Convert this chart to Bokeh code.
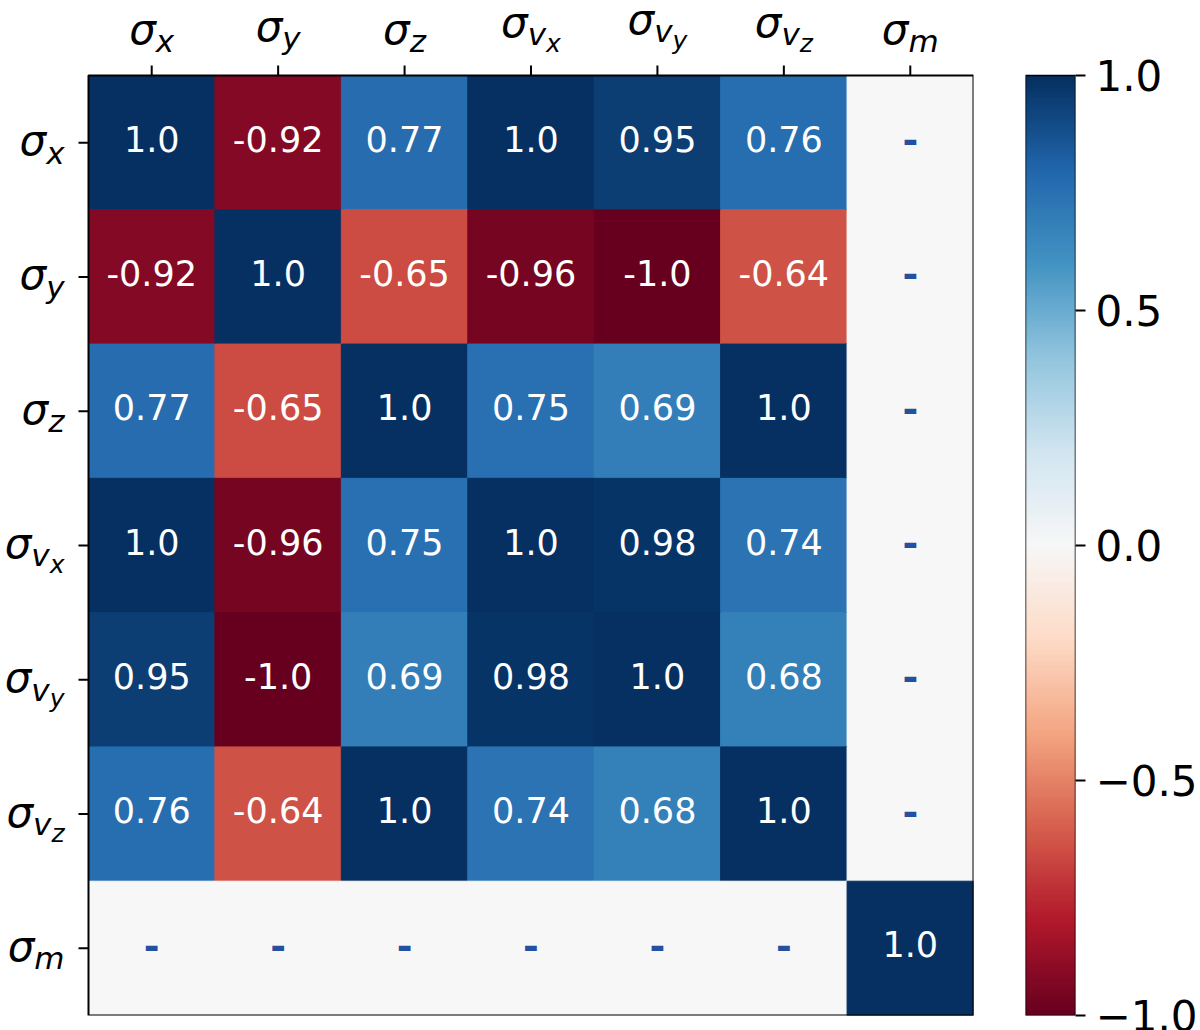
import numpy as np
from bokeh.plotting import figure
from bokeh.models import Range1d, FixedTicker, LinearColorMapper, ColumnDataSource
from bokeh.transform import transform
from bokeh.layouts import row
from bokeh.embed import file_html
from bokeh.resources import INLINE
from bokeh.core.properties import value

# ---------------- data ----------------
label_parts = [
    ["σ", "x"],
    ["σ", "y"],
    ["σ", "z"],
    ["σ", "v", "x"],
    ["σ", "v", "y"],
    ["σ", "v", "z"],
    ["σ", "m"],
]
nan = float("nan")
row_sx = [1.0, -0.92, 0.77, 1.0, 0.95, 0.76, nan]
row_sy = [-0.92, 1.0, -0.65, -0.96, -1.0, -0.64, nan]
row_sz = [0.77, -0.65, 1.0, 0.75, 0.69, 1.0, nan]
row_svx = [1.0, -0.96, 0.75, 1.0, 0.98, 0.74, nan]
row_svy = [0.95, -1.0, 0.69, 0.98, 1.0, 0.68, nan]
row_svz = [0.76, -0.64, 1.0, 0.74, 0.68, 1.0, nan]
row_sm = [nan, nan, nan, nan, nan, nan, 1.0]
corr = [row_sx, row_sy, row_sz, row_svx, row_svy, row_svz, row_sm]

cbar_ticks = [-1.0, -0.5, 0.0, 0.5, 1.0]
cbar_tick_labels = ["\u22121.0", "\u22120.5", "0.0", "0.5", "1.0"]

# RdBu anchor colours (low -> high)
rdbu_anchors = ["#67001f", "#b2182b", "#d6604d", "#f4a582", "#fddbc7", "#f7f7f7",
                "#d1e5f0", "#92c5de", "#4393c3", "#2166ac", "#053061"]


def build_palette(anchors, n=256):
    rgb = np.array([[int(a[i:i + 2], 16) for i in (1, 3, 5)] for a in anchors], float)
    pos = np.linspace(0, 1, len(anchors))
    t = np.linspace(0, 1, n)
    out = []
    for ti in t:
        c = [np.interp(ti, pos, rgb[:, k]) for k in range(3)]
        out.append("#%02x%02x%02x" % tuple(int(round(v)) for v in c))
    return out


palette = build_palette(rdbu_anchors)
mapper = LinearColorMapper(palette=palette, low=-1, high=1, nan_color="#f7f7f7")

n = len(label_parts)

# ---------------- layout (pixels) ----------------
FONT = "DejaVu Sans"
FL, FT, FB = 88, 75, 15        # space left / above / below heatmap
HW, HH = 885, 940              # heatmap size in px
PPX = HW / n                   # px per data unit (x)
PPY = HH / n                   # px per data unit (y)
MID = 0.357                    # baseline -> middle offset (fraction of font size)


def dx(px):
    return px / PPX


def dy(px):
    return px / PPY   # y range is inverted: + goes down


x0 = -0.5 - dx(FL)
y_top = -0.5 - dy(FT)

p = figure(frame_width=FL + HW, frame_height=FT + HH,
           min_border_left=0, min_border_right=27, min_border_top=0, min_border_bottom=FB,
           x_range=Range1d(x0, n - 0.5), y_range=Range1d(n - 0.5, y_top),
           x_axis_location=None, y_axis_location=None,
           toolbar_location=None, output_backend="svg",
           background_fill_color="white", border_fill_color="white")
p.grid.visible = False
p.outline_line_color = None

xs, ys, vs = [], [], []
for i in range(n):
    for j in range(n):
        xs.append(j)
        ys.append(i)
        vs.append(corr[i][j])
vs_arr = np.array(vs, dtype=float)
is_nan = np.isnan(vs_arr)

cells = ColumnDataSource(dict(x=xs, y=ys, v=vs_arr))
num_src = ColumnDataSource(dict(
    x=[x for x, m in zip(xs, is_nan) if not m],
    y=[y - dy(4) for y, m in zip(ys, is_nan) if not m],
    t=[str(v) for v, m in zip(vs, is_nan) if not m],
))
dash_src = ColumnDataSource(dict(
    x=[x for x, m in zip(xs, is_nan) if m],
    y=[y - dy(3) for y, m in zip(ys, is_nan) if m],
    t=["-" for m in is_nan if m],
))

p.rect(x="x", y="y", width=1, height=1, source=cells,
       fill_color=transform("v", mapper), line_color=transform("v", mapper), line_width=1)
p.text(x="x", y="y", text="t", source=num_src, text_color="white",
       text_align="center", text_baseline="middle",
       text_font=value(FONT), text_font_size="35px")
p.text(x="x", y="y", text="t", source=dash_src, text_color="#23509f",
       text_align="center", text_baseline="middle", text_font_style="bold",
       text_font=value(FONT), text_font_size="38px")

# frame border around the matrix
p.rect(x=[(n - 1) / 2], y=[(n - 1) / 2], width=n, height=n,
       fill_color=None, line_color="black", line_width=2)

# ticks (top and left)
idx = list(range(n))
TICK = 10
p.segment(x0=idx, x1=idx, y0=[-0.5] * n, y1=[-0.5 - dy(TICK)] * n,
          line_color="black", line_width=2)
p.segment(x0=[-0.5] * n, x1=[-0.5 - dx(TICK)] * n, y0=idx, y1=idx,
          line_color="black", line_width=2)

# math-style tick labels built from pieces (σ, subscript, sub-subscript)
adv = {"σ": 0.634, "x": 0.592, "y": 0.592, "z": 0.525, "v": 0.592, "m": 0.974}
sizes = [42, 31, 25]
shift = [0, 8, 15]
desc = {"y"}

lab = {"x": [], "y": [], "t": [], "s": []}
for k, parts in enumerate(label_parts):
    widths = [adv[ch] * sizes[lev] for lev, ch in enumerate(parts)]
    W = sum(widths)
    cum = np.concatenate([[0.0], np.cumsum(widths)[:-1]])
    base_gap = 31 + 7 * (len(parts) - 2) + (3 if parts[-1] in desc else 0)
    for lev, ch in enumerate(parts):
        mid = MID * sizes[lev]
        # top label (centred on the column)
        lab["x"].append(k + dx(-W / 2 + cum[lev]))
        lab["y"].append(-0.5 - dy(base_gap - shift[lev] + mid))
        lab["t"].append(ch)
        lab["s"].append("%dpx" % sizes[lev])
        # left label (right-aligned before the tick)
        lab["x"].append(-0.5 + dx(-24 - W + cum[lev]))
        lab["y"].append(k + dy(13 + shift[lev] - mid))
        lab["t"].append(ch)
        lab["s"].append("%dpx" % sizes[lev])

p.text(x="x", y="y", text="t", source=ColumnDataSource(lab), text_font_size="s",
       text_font=value(FONT), text_font_style="italic", text_color="black",
       text_align="left", text_baseline="middle")

# ---------------- colour bar ----------------
cb_top = 1 + 2 * FT / HH
p2 = figure(frame_width=50, frame_height=FT + HH,
            min_border_left=25, min_border_right=125, min_border_top=0, min_border_bottom=FB,
            x_range=Range1d(0, 1), y_range=Range1d(-1, cb_top),
            x_axis_location=None, y_axis_location="right",
            toolbar_location=None, output_backend="svg",
            background_fill_color="white", border_fill_color="white")
grad = np.linspace(-1, 1, 256).reshape(256, 1)
p2.image(image=[grad], x=0, y=-1, dw=1, dh=2, color_mapper=mapper)
p2.rect(x=[0.5], y=[0.0], width=1, height=2, fill_color=None,
        line_color="black", line_width=1.5)
ax2 = p2.yaxis[0]
ax2.ticker = FixedTicker(ticks=cbar_ticks)
ax2.major_label_overrides = {float(t): s for t, s in zip(cbar_ticks, cbar_tick_labels)}
ax2.major_label_text_font = FONT
ax2.major_label_text_font_size = "42px"
ax2.major_label_text_color = "black"
ax2.major_label_standoff = 10
ax2.major_tick_out = 10
ax2.major_tick_in = 0
ax2.minor_tick_out = 0
ax2.minor_tick_in = 0
ax2.major_tick_line_width = 2
ax2.axis_line_color = None
p2.grid.visible = False
p2.outline_line_color = None

layout = row(p, p2)
open("out.html", "w").write(file_html(layout, INLINE))
